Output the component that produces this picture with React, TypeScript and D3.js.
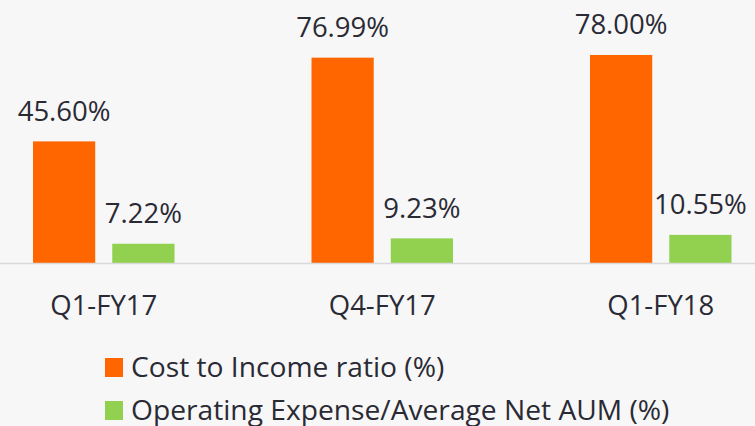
import React from "react";
import * as d3 from "d3";

const categories = ["Q1-FY17", "Q4-FY17", "Q1-FY18"];
const seriesNames = ["Cost to Income ratio (%)", "Operating Expense/Average Net AUM (%)"];
const costToIncome = [45.6, 76.99, 78.0];
const opexToAum = [7.22, 9.23, 10.55];
const valueLabels = [
  ["45.60%", "76.99%", "78.00%"],
  ["7.22%", "9.23%", "10.55%"],
];
const colors = ["#ff6600", "#92d050"];

const W = 755;
const H = 426;
const FONT = "'Open Sans', sans-serif";
const TEXT = "#2a2a35";

export default function App() {
  const series = [costToIncome, opexToAum];
  const y = d3.scaleLinear().domain([0, 100]).range([263, 263 - 266.7]);
  const x0 = d3.scaleBand<string>().domain(categories).range([-35.5, 800]).padding(0);
  const x1 = d3
    .scaleBand<string>()
    .domain(seriesNames)
    .range([68.5, 210])
    .paddingInner(0.215)
    .paddingOuter(0);

  return (
    <svg
      width={W}
      height={H}
      style={{ position: "absolute", left: 0, top: 0, display: "block" }}
    >
      <rect x={0} y={0} width={W} height={H} fill="#f7f7f7" />
      {categories.map((c, i) => (
        <g key={c}>
          {series.map((s, si) => {
            const bx = (x0(c) ?? 0) + (x1(seriesNames[si]) ?? 0);
            const bw = x1.bandwidth();
            const top = y(s[i]);
            return (
              <g key={si}>
                <rect x={bx} y={top} width={bw} height={y(0) - top} fill={colors[si]} />
                <text
                  x={bx + bw / 2}
                  y={top - 20.5}
                  textAnchor="middle"
                  fontFamily={FONT}
                  fontSize={27.5}
                  fill={TEXT}
                >
                  {valueLabels[si][i]}
                </text>
              </g>
            );
          })}
          <text
            x={(x0(c) ?? 0) + x0.bandwidth() / 2}
            y={315}
            textAnchor="middle"
            fontFamily={FONT}
            fontSize={27.5}
            fill={TEXT}
          >
            {c}
          </text>
        </g>
      ))}
      <line x1={0} x2={W} y1={y(0) + 0.5} y2={y(0) + 0.5} stroke="#d9d9d9" strokeWidth={1.5} />
      {seriesNames.map((n, i) => (
        <g key={n} transform={`translate(105, ${358 + i * 43})`}>
          <rect x={0} y={0} width={18} height={19} fill={colors[i]} />
          <text x={26} y={18.5} fontFamily={FONT} fontSize={28.2} fill={TEXT}>
            {n}
          </text>
        </g>
      ))}
    </svg>
  );
}
